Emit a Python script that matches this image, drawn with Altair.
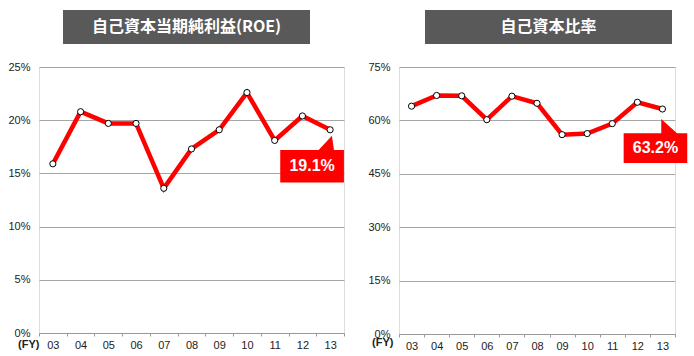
import altair as alt
import pandas as pd

years = ["03", "04", "05", "06", "07", "08", "09", "10", "11", "12", "13"]
roe = [15.9, 20.8, 19.7, 19.7, 13.6, 17.3, 19.1, 22.6, 18.1, 20.4, 19.1]
equity_ratio = [64.0, 67.0, 66.9, 60.2, 66.8, 64.8, 56.0, 56.3, 59.1, 65.1, 63.2]
titles = ["自己資本当期純利益(ROE)", "自己資本比率"]
roe_ticks = [0, 5, 10, 15, 20, 25]
eq_ticks = [0, 15, 30, 45, 60, 75]

RED = "#ff0000"
GRID = "#a6a6a6"
FONT = "Liberation Sans"
CJK = "Noto Sans CJK JP"


def panel(vals, ticks, title, width, height, rect_x, callout_path, dx, dy, fy_x, fy_y):
    df = pd.DataFrame({"year": years, "v": vals})
    df["label"] = df["v"].map(lambda v: f"{v:.1f}%")
    last = df.iloc[[-1]]

    x = alt.X(
        "year:N",
        sort=None,
        scale=alt.Scale(type="band", paddingInner=0, paddingOuter=0),
        axis=alt.Axis(
            title="(FY)", titleX=fy_x, titleY=fy_y, titleAlign="right",
            titleBaseline="middle", titleFontWeight="bold", titleFontSize=11,
            titleFont=FONT, titleColor="#222",
            labelAngle=0, labelFont=FONT, labelFontSize=11, labelColor="#222",
            labelPadding=3, tickBand="extent", tickSize=3, tickColor="#999",
            domainColor="#999", grid=False,
        ),
    )
    y = alt.Y(
        "v:Q",
        scale=alt.Scale(domain=[ticks[0], ticks[-1]], nice=False, zero=True),
        axis=alt.Axis(
            values=ticks, labelExpr="datum.value + '%'", title=None,
            domain=False, ticks=False, gridColor=GRID, gridWidth=1,
            labelFont=FONT, labelFontSize=11, labelColor="#222", labelPadding=9,
        ),
    )

    base = alt.Chart(df).encode(x=x, y=y)
    line = base.mark_line(color=RED, strokeWidth=4.5)
    pts = base.mark_point(filled=True, fill="white", stroke="black", strokeWidth=1,
                          size=38, opacity=1)

    cbase = alt.Chart(last).encode(x=x, y=y)
    callout = cbase.mark_point(shape=callout_path, filled=True, size=400,
                               color=RED, opacity=1, strokeWidth=0)
    ctext = cbase.mark_text(dx=dx, dy=dy, font=FONT, fontSize=16, fontWeight="bold",
                            color="white", align="center", baseline="middle").encode(text="label:N")

    tdf = pd.DataFrame({"t": [title]})
    tbox = alt.Chart(tdf).mark_rect(color="#595959").encode(
        x=alt.value(rect_x), x2=alt.value(rect_x + 247),
        y=alt.value(-57), y2=alt.value(-23))
    ttext = alt.Chart(tdf).mark_text(font=CJK, fontSize=16, fontWeight="bold", color="white",
                                     align="center", baseline="middle").encode(
        x=alt.value(rect_x + 123.5), y=alt.value(-40), text="t:N")

    return alt.layer(tbox, ttext, line, callout, pts, ctext).properties(width=width, height=height)


left = panel(roe, roe_ticks, titles[0], 305, 266, 24,
             "M-4.99,2.02L-1.15,2.02L0.18,0.59L0.38,2.02L1.38,2.02L1.38,5.26L-4.99,5.26Z",
             -18, 36.5, 0, 11.5)
right = panel(equity_ratio, eq_ticks, titles[1], 276, 267, 26,
              "M-3.88,2.43L-0.12,2.43L-0.12,1.0L1.45,2.43L2.48,2.43L2.48,5.4L-3.88,5.4Z",
              -7, 39, -6, 8.5)

chart = alt.hconcat(left, right, spacing=55, bounds="flush").properties(
    padding={"left": 7, "top": 9, "right": 5, "bottom": 5},
).configure_view(stroke=None).configure(background="white")

chart.save("out.html", embed_options={"renderer": "svg", "actions": False})
